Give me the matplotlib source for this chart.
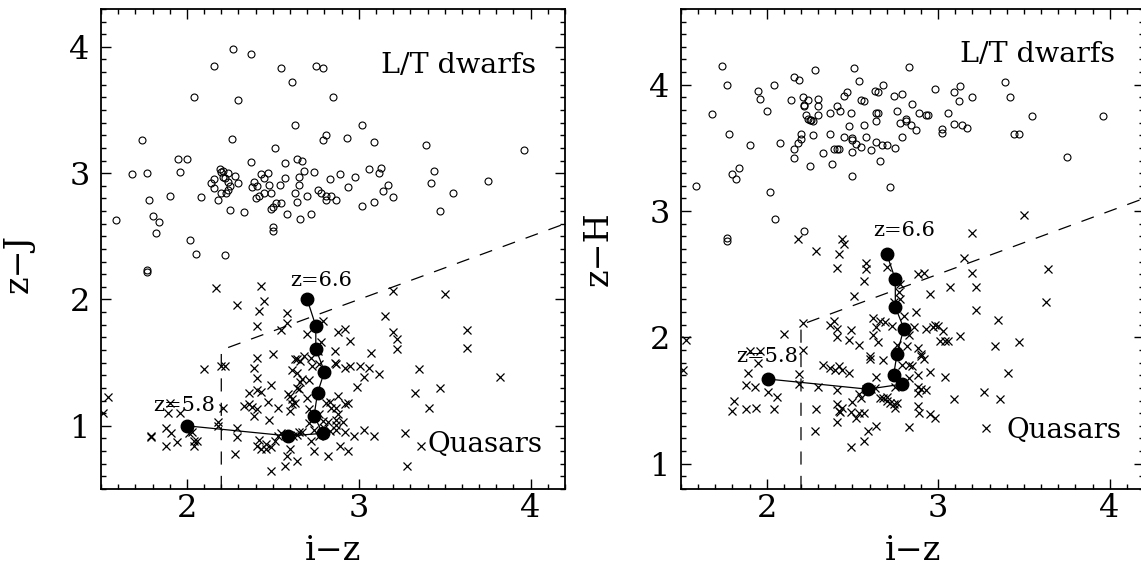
import matplotlib
matplotlib.use("Agg")
import matplotlib.pyplot as plt
import numpy as np
from matplotlib.ticker import MultipleLocator

plt.rcParams['font.family'] = ['DejaVu Serif']
plt.rcParams['mathtext.fontset'] = 'dejavuserif'

# ---- left panel: z-J vs i-z ----
dwarfs_zj = [
    (2.27, 3.98), (2.37, 3.94), (2.16, 3.85), (2.55, 3.83), (2.75, 3.85), (2.79, 3.83),
    (2.61, 3.72), (2.04, 3.60), (2.30, 3.58), (2.85, 3.60), (2.63, 3.38), (3.02, 3.38),
    (1.74, 3.26), (2.26, 3.27), (2.79, 3.26), (2.81, 3.30), (2.93, 3.28), (3.09, 3.25),
    (3.39, 3.22), (3.96, 3.18), (2.51, 3.20), (1.95, 3.11), (2.00, 3.11), (1.96, 3.01),
    (1.68, 2.99), (1.77, 3.00), (2.37, 3.09), (2.57, 3.08), (2.64, 3.11), (2.67, 3.10),
    (2.19, 3.03), (2.20, 3.01), (2.21, 3.02), (2.24, 3.00), (2.28, 2.98), (2.30, 2.92),
    (2.21, 2.97), (2.22, 2.96), (2.14, 2.92), (2.16, 2.95), (2.16, 2.88), (2.24, 2.93),
    (2.24, 2.87), (2.25, 2.90), (2.23, 2.84), (2.20, 2.84), (2.18, 2.79), (2.08, 2.81),
    (1.90, 2.82), (1.78, 2.79), (1.80, 2.66), (1.84, 2.61), (1.82, 2.53), (1.59, 2.63),
    (2.02, 2.47), (2.05, 2.36), (2.22, 2.35), (1.77, 2.23), (1.77, 2.22), (2.25, 2.71),
    (2.33, 2.69), (2.38, 2.89), (2.39, 2.93), (2.41, 2.90), (2.43, 2.99), (2.45, 2.96),
    (2.47, 3.00), (2.48, 2.91), (2.54, 2.91), (2.57, 2.96), (2.65, 2.97), (2.65, 2.91),
    (2.68, 3.02), (2.74, 3.01), (2.83, 2.95), (2.89, 2.99), (2.98, 2.97), (3.06, 3.03),
    (3.13, 3.04), (3.12, 3.00), (2.94, 2.89), (2.76, 2.87), (2.78, 2.84), (2.81, 2.82),
    (2.81, 2.79), (2.84, 2.82), (2.87, 2.79), (2.63, 2.84), (2.64, 2.77), (2.70, 2.82),
    (2.49, 2.84), (2.45, 2.84), (2.42, 2.82), (2.40, 2.80), (2.52, 2.76), (2.55, 2.76),
    (2.49, 2.72), (2.50, 2.73), (2.58, 2.68), (2.66, 2.64), (2.72, 2.68), (2.50, 2.57),
    (2.50, 2.54), (3.02, 2.74), (3.09, 2.77), (3.14, 2.86), (3.17, 2.91), (3.20, 2.81),
    (3.44, 3.02), (3.42, 2.92), (3.55, 2.84), (3.47, 2.70), (3.75, 2.94),
]

quasars_zj = [
    (2.17, 2.09), (2.43, 2.11), (2.45, 1.99), (2.29, 1.96), (2.42, 1.91), (2.41, 1.79),
    (2.58, 1.89), (2.58, 1.81), (2.55, 1.76), (3.50, 2.04), (3.20, 2.07), (2.79, 1.83),
    (3.15, 1.87), (2.88, 1.74), (2.92, 1.77), (2.95, 1.67), (3.20, 1.74), (3.22, 1.69),
    (3.22, 1.61), (3.07, 1.58), (2.86, 1.59), (2.86, 1.50), (2.87, 1.49), (2.92, 1.46),
    (2.95, 1.47), (3.01, 1.47), (3.03, 1.39), (3.06, 1.46), (3.12, 1.41), (2.99, 1.31),
    (3.63, 1.76), (3.63, 1.62), (3.35, 1.45), (3.33, 1.26), (3.47, 1.30), (3.41, 1.14),
    (3.82, 1.39), (3.27, 0.94), (3.28, 0.68), (3.36, 0.84), (2.10, 1.45), (2.22, 1.47),
    (2.41, 1.54), (2.50, 1.57), (2.39, 1.46), (2.41, 1.38), (2.36, 1.26), (2.41, 1.28),
    (2.43, 1.27), (2.49, 1.32), (2.33, 1.16), (2.36, 1.17), (2.38, 1.15), (2.39, 1.08),
    (2.41, 1.13), (2.47, 1.19), (2.48, 1.05), (2.53, 1.14), (2.60, 1.24), (2.61, 1.21),
    (2.60, 1.12), (2.63, 1.53), (2.64, 1.53), (2.66, 1.51), (2.61, 1.44), (2.64, 1.42),
    (2.66, 1.35), (2.67, 1.37), (2.64, 1.30), (2.68, 1.55), (2.72, 1.54), (2.70, 1.73),
    (2.88, 1.24), (2.81, 1.18), (2.83, 1.19), (2.87, 1.14), (2.92, 1.17), (2.94, 1.18),
    (2.84, 1.14), (2.87, 1.05), (2.88, 1.09), (2.91, 1.03), (2.87, 0.97), (2.92, 0.95),
    (2.97, 0.92), (3.03, 0.97), (3.09, 0.92), (2.89, 0.84), (2.94, 0.80), (2.82, 0.76),
    (2.74, 0.80), (2.72, 0.88), (2.67, 0.95), (2.65, 0.95), (2.64, 0.93), (2.62, 0.92),
    (2.60, 0.82), (2.64, 0.72), (2.57, 0.68), (2.58, 0.76), (2.49, 0.64), (2.42, 0.89),
    (2.41, 0.84), (2.43, 0.82), (2.46, 0.86), (2.49, 0.83), (2.51, 0.88), (2.53, 0.92),
    (2.55, 0.94), (2.46, 0.82), (2.29, 0.98), (2.29, 0.91), (2.28, 0.78), (2.18, 1.03),
    (2.18, 1.00), (2.21, 1.14), (2.20, 1.47), (2.01, 0.99), (2.03, 0.95), (2.01, 0.94),
    (2.04, 0.88), (2.04, 0.84), (2.06, 0.88), (1.94, 0.87), (1.88, 0.84), (1.91, 0.94),
    (1.88, 0.98), (1.89, 1.10), (1.90, 1.18), (1.96, 1.10), (1.79, 0.91), (1.79, 0.92),
    (1.54, 1.23), (1.51, 1.10), (2.77, 1.09), (2.79, 1.04), (2.71, 1.02), (2.74, 0.97),
    (2.80, 0.98), (2.83, 0.96), (2.82, 1.03), (2.77, 0.92), (2.87, 1.01), (2.70, 1.22),
    (2.71, 1.13), (2.63, 1.18), (2.61, 1.17), (2.59, 1.25), (2.65, 1.29), (2.71, 1.36),
    (2.73, 1.47), (2.77, 1.49), (2.76, 1.59), (2.78, 1.66),
]

# model track z=5.8 ... 6.6
track_iz_j = [2.00, 2.59, 2.79, 2.74, 2.76, 2.80, 2.75, 2.75, 2.70]
track_zj = [1.00, 0.92, 0.94, 1.08, 1.26, 1.43, 1.61, 1.79, 2.00]

# ---- right panel: z-H vs i-z ----
dwarfs_zh = [
    (1.74, 4.15), (1.77, 4.00), (1.68, 3.77), (1.78, 3.61), (1.90, 3.52), (1.80, 3.29),
    (1.82, 3.25), (1.84, 3.34), (1.59, 3.20), (2.02, 3.15), (2.05, 2.94), (2.22, 2.84),
    (1.77, 2.79), (1.77, 2.76), (1.95, 3.95), (1.96, 3.89), (2.00, 3.79), (2.04, 4.00),
    (2.14, 3.88), (2.16, 4.06), (2.19, 4.04), (2.21, 3.90), (2.22, 3.84), (2.22, 3.83),
    (2.24, 3.88), (2.30, 3.89), (2.30, 3.83), (2.30, 3.76), (2.23, 3.76), (2.24, 3.73),
    (2.25, 3.72), (2.26, 3.72), (2.27, 3.71), (2.28, 4.12), (2.51, 4.13), (2.54, 4.03),
    (2.47, 3.94), (2.45, 3.91), (2.41, 3.83), (2.37, 3.78), (2.43, 3.79), (2.49, 3.78),
    (2.55, 3.88), (2.57, 3.87), (2.63, 3.95), (2.65, 3.94), (2.68, 4.00), (2.74, 3.91),
    (2.79, 3.93), (2.83, 4.14), (2.98, 3.97), (3.09, 3.94), (3.13, 3.99), (3.12, 3.87),
    (3.20, 3.90), (3.39, 4.02), (3.42, 3.90), (3.55, 3.75), (3.96, 3.75), (3.44, 3.61),
    (3.47, 3.61), (3.75, 3.43), (2.20, 3.61), (2.18, 3.54), (2.16, 3.49), (2.16, 3.42),
    (2.20, 3.57), (2.27, 3.60), (2.08, 3.54), (2.25, 3.36), (2.33, 3.46), (2.38, 3.37),
    (2.37, 3.61), (2.39, 3.49), (2.41, 3.49), (2.42, 3.49), (2.45, 3.59), (2.48, 3.67),
    (2.50, 3.58), (2.50, 3.56), (2.52, 3.53), (2.50, 3.47), (2.50, 3.28), (2.55, 3.51),
    (2.57, 3.68), (2.58, 3.59), (2.61, 3.48), (2.64, 3.78), (2.65, 3.78), (2.64, 3.55),
    (2.64, 3.71), (2.67, 3.52), (2.66, 3.40), (2.70, 3.52), (2.75, 3.50), (2.79, 3.59),
    (2.78, 3.70), (2.76, 3.79), (2.81, 3.71), (2.81, 3.73), (2.84, 3.68), (2.85, 3.85),
    (2.87, 3.64), (2.89, 3.78), (2.93, 3.76), (2.94, 3.76), (3.02, 3.65), (3.02, 3.62),
    (3.06, 3.78), (3.09, 3.69), (3.14, 3.68), (3.17, 3.66), (2.72, 3.19),
]

quasars_zh = [
    (3.50, 2.97), (3.20, 2.83), (2.18, 2.78), (2.44, 2.78), (2.45, 2.74), (2.29, 2.68),
    (2.42, 2.66), (2.41, 2.55), (2.58, 2.59), (2.58, 2.54), (2.57, 2.45), (2.70, 2.56),
    (2.88, 2.50), (2.92, 2.51), (3.15, 2.63), (3.20, 2.51), (3.07, 2.40), (3.22, 2.40),
    (2.95, 2.34), (3.64, 2.54), (2.51, 2.33), (2.78, 2.42), (2.77, 2.36), (3.22, 2.22),
    (3.63, 2.28), (3.35, 2.14), (3.47, 1.96), (3.33, 1.93), (3.41, 1.72), (3.27, 1.57),
    (3.36, 1.51), (3.28, 1.28), (2.10, 2.03), (2.21, 2.11), (2.21, 1.90), (2.19, 1.71),
    (2.19, 1.63), (1.53, 1.98), (1.51, 1.74), (1.89, 1.72), (1.88, 1.62), (1.93, 1.61),
    (1.96, 1.89), (1.90, 1.89), (1.95, 1.80), (1.81, 1.50), (1.80, 1.42), (1.88, 1.43),
    (1.94, 1.44), (2.04, 1.43), (2.01, 1.57), (2.06, 1.53), (2.30, 1.61), (2.29, 1.43),
    (2.28, 1.26), (2.41, 1.58), (2.41, 1.47), (2.42, 1.42), (2.43, 1.41), (2.41, 1.33),
    (2.44, 1.44), (2.49, 1.41), (2.50, 1.49), (2.52, 1.36), (2.49, 1.13), (2.54, 1.40),
    (2.57, 1.40), (2.59, 1.26), (2.57, 1.18), (2.64, 1.30), (2.54, 1.55), (2.55, 1.52),
    (2.58, 1.59), (2.61, 1.59), (2.63, 1.60), (2.66, 1.52), (2.68, 1.52), (2.70, 1.50),
    (2.72, 1.48), (2.74, 1.47), (2.75, 1.44), (2.76, 1.48), (2.37, 1.76), (2.40, 1.74),
    (2.42, 1.77), (2.44, 1.74), (2.48, 1.72), (2.33, 1.78), (2.37, 2.10), (2.39, 2.13),
    (2.41, 2.07), (2.41, 2.00), (2.48, 1.98), (2.49, 2.06), (2.54, 1.94), (2.60, 1.85),
    (2.64, 1.69), (2.68, 1.82), (2.62, 2.15), (2.66, 2.13), (2.64, 2.08), (2.62, 2.02),
    (2.65, 1.96), (2.69, 2.12), (2.73, 2.09), (2.80, 2.17), (2.83, 2.02), (2.87, 2.20),
    (2.86, 2.08), (2.82, 1.93), (2.83, 1.78), (2.85, 1.77), (2.79, 1.78), (2.83, 1.68),
    (2.88, 1.92), (2.90, 1.87), (2.90, 1.85), (2.92, 1.83), (2.88, 1.70), (2.88, 1.61),
    (2.90, 1.59), (2.93, 1.58), (2.88, 1.56), (2.88, 1.46), (2.89, 1.40), (2.95, 1.73),
    (2.95, 1.39), (2.98, 1.36), (3.04, 1.69), (3.09, 1.51), (2.93, 2.07), (2.97, 2.08),
    (2.98, 2.10), (3.00, 2.09), (3.03, 2.05), (3.04, 1.97), (3.01, 1.97), (3.06, 1.97),
    (3.13, 2.01), (2.83, 1.29), (2.60, 1.83), (2.76, 1.94), (2.75, 1.61), (2.70, 1.53),
    (2.78, 2.30), (2.74, 2.28),
]

track_iz_h = [2.01, 2.59, 2.79, 2.74, 2.76, 2.80, 2.75, 2.75, 2.70]
track_zh = [1.67, 1.59, 1.63, 1.70, 1.87, 2.07, 2.24, 2.46, 2.66]

# selection cuts: i-z > 2.2 and z-J < 0.5(i-z)+0.5 / z-H < 0.5(i-z)+1.0
cut_x = [2.2, 2.2, 4.2]
cut_zj = [0.5, 1.6, 2.6]
cut_zh = [0.8, 2.1, 3.1]


def panel(ax, dwarfs, quasars, tx, ty, cut_y, ylim, ylab, lab_lt, lab_q, lab66, lab58):
    d = np.array(dwarfs)
    q = np.array(quasars)
    ax.plot(d[:, 0], d[:, 1], 'o', mfc='none', mec='k', ms=5, mew=0.8)
    ax.plot(q[:, 0], q[:, 1], 'x', color='k', ms=5.5, mew=0.9)
    ax.plot(cut_x, cut_y, color='k', lw=0.9, dashes=(10.5, 9))
    ax.plot(tx, ty, '-', color='k', lw=0.9)
    ax.plot(tx, ty, 'o', color='k', ms=9)

    ax.text(lab_lt[0], lab_lt[1], "L/T dwarfs", fontsize=20.5, ha='right', va='baseline')
    ax.text(lab_q[0], lab_q[1], "Quasars", fontsize=20, ha='right', va='baseline')
    ax.text(lab66[0], lab66[1], "z=6.6", fontsize=15, ha='center', va='center')
    ax.text(lab58[0], lab58[1], "z=5.8", fontsize=15, ha='center', va='center')

    ax.set_xlim(1.5, 4.2)
    ax.set_ylim(*ylim)
    ax.xaxis.set_major_locator(MultipleLocator(1))
    ax.yaxis.set_major_locator(MultipleLocator(1))
    ax.xaxis.set_minor_locator(MultipleLocator(0.1))
    ax.yaxis.set_minor_locator(MultipleLocator(0.1))
    ax.tick_params(which='both', direction='in', top=True, right=True, width=1)
    ax.tick_params(which='major', length=7.5, labelsize=23)
    ax.tick_params(which='minor', length=3.6)
    ax.tick_params(axis='x', pad=3)
    ax.tick_params(axis='y', pad=8)
    for s in ax.spines.values():
        s.set_linewidth(1.3)

    ax.set_xlabel("i\u2212z", fontsize=24)
    ax.set_ylabel(ylab, fontsize=24)
    ax.xaxis.set_label_coords(0.5, -0.095)


fig = plt.figure(figsize=(11.41, 5.67), dpi=100)
ax1 = fig.add_axes([0.0885, 0.1376, 0.4067, 0.8466])
ax2 = fig.add_axes([0.5968, 0.1376, 0.4058, 0.8466])

panel(ax1, dwarfs_zj, quasars_zj, track_iz_j, track_zj, cut_zj, (0.5, 4.3), "z\u2212J",
      (4.03, 3.79), (4.07, 0.79), (2.78, 2.15), (1.985, 1.16))
panel(ax2, dwarfs_zh, quasars_zh, track_iz_h, track_zh, cut_zh, (0.8, 4.6), "z\u2212H",
      (4.03, 4.18), (4.07, 1.20), (2.80, 2.85), (2.0, 1.85))

ax1.yaxis.set_label_coords(-0.142, 0.47)
ax2.yaxis.set_label_coords(-0.143, 0.5)

fig.savefig("out.png", dpi=100)
